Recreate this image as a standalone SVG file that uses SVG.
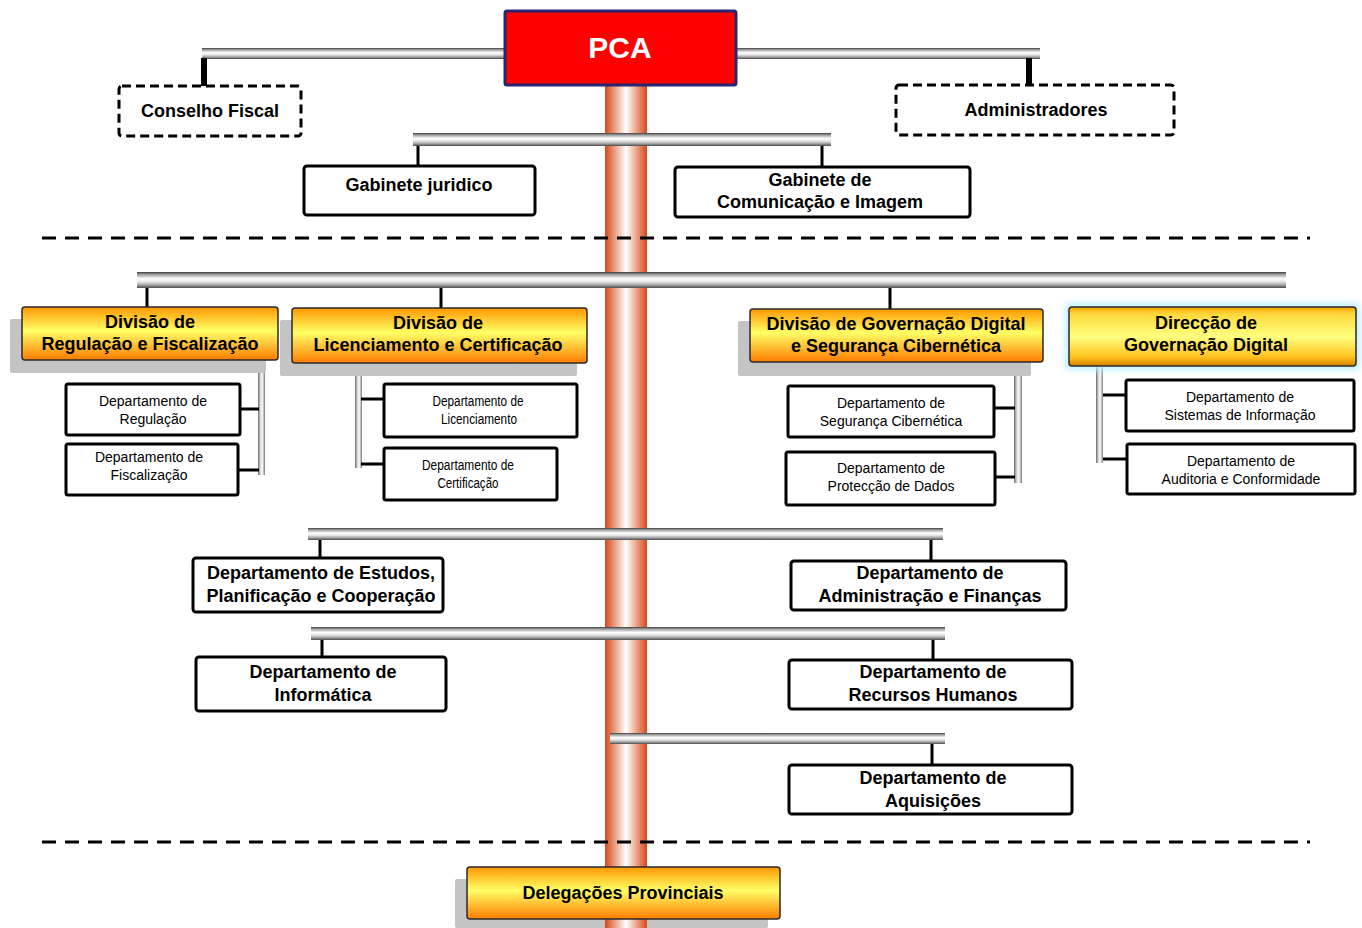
<svg xmlns="http://www.w3.org/2000/svg" width="1362" height="928" viewBox="0 0 1362 928">
  <defs>
    <!-- central trunk: copper edges fading to white -->
    <linearGradient id="trunkGrad" x1="0" y1="0" x2="1" y2="0">
      <stop offset="0" stop-color="#d5481a"/>
      <stop offset="0.18" stop-color="#e58a68"/>
      <stop offset="0.5" stop-color="#ffffff"/>
      <stop offset="0.82" stop-color="#e58a68"/>
      <stop offset="1" stop-color="#d5481a"/>
    </linearGradient>
    <!-- horizontal chrome bar -->
    <linearGradient id="barH" x1="0" y1="0" x2="0" y2="1">
      <stop offset="0" stop-color="#3c3c3c"/>
      <stop offset="0.15" stop-color="#9c9c9c"/>
      <stop offset="0.42" stop-color="#ffffff"/>
      <stop offset="0.62" stop-color="#e4e4e4"/>
      <stop offset="0.82" stop-color="#a0a0a0"/>
      <stop offset="1" stop-color="#4a4a4a"/>
    </linearGradient>
    <!-- vertical chrome bar -->
    <linearGradient id="barV" x1="0" y1="0" x2="1" y2="0">
      <stop offset="0" stop-color="#6a6a6a"/>
      <stop offset="0.35" stop-color="#d8d8d8"/>
      <stop offset="0.6" stop-color="#ffffff"/>
      <stop offset="1" stop-color="#7a7a7a"/>
    </linearGradient>
    <!-- orange division boxes -->
    <linearGradient id="orangeGrad" x1="0" y1="0" x2="0" y2="1">
      <stop offset="0" stop-color="#ff9800"/>
      <stop offset="0.45" stop-color="#ffff66"/>
      <stop offset="1" stop-color="#ff7c00"/>
    </linearGradient>
    <!-- golden bevelled box -->
    <linearGradient id="goldGrad" x1="0" y1="0" x2="0" y2="1">
      <stop offset="0" stop-color="#f2a000"/>
      <stop offset="0.12" stop-color="#ffd83a"/>
      <stop offset="0.5" stop-color="#ffff80"/>
      <stop offset="0.85" stop-color="#ffc21e"/>
      <stop offset="1" stop-color="#d58000"/>
    </linearGradient>
    <filter id="glow" x="-10%" y="-30%" width="120%" height="160%">
      <feGaussianBlur stdDeviation="3"/>
    </filter>
  </defs>
  <style>
    text { font-family: "Liberation Sans", Arial, sans-serif; fill: #000; text-anchor: middle; }
    .b { font-weight: bold; font-size: 18px; }
    .s { font-size: 14px; }
    .pca { font-weight: bold; font-size: 30px; fill: #fff; }
    .box { fill: #fff; stroke: #000; stroke-width: 3; }
    .dbox { fill: #fff; stroke: #000; stroke-width: 3; stroke-dasharray: 9 5; }
    .obox { fill: url(#orangeGrad); stroke: #2a2a2a; stroke-width: 1.5; }
    .gbox { fill: url(#goldGrad); stroke: #2a2a2a; stroke-width: 1.5; }
    .shadow { fill: #c4c4c4; }
    .bar { fill: url(#barH); }
    .vbar { fill: url(#barV); }
    .drop { stroke: #000; stroke-width: 3; fill: none; }
    .dropT { stroke: #000; stroke-width: 6; fill: none; }
    .sep { stroke: #000; stroke-width: 3; stroke-dasharray: 14 9; fill: none; }
  </style>

  <rect width="1362" height="928" fill="#fff"/>

  <!-- shadow of the provincial box sits beneath the trunk -->
  <rect class="shadow" x="455" y="879" width="313" height="49" rx="2"/>

  <!-- trunk -->
  <rect x="605" y="84" width="42" height="844" fill="url(#trunkGrad)"/>

  <!-- connectors -->
  <g id="connectors">
    <rect class="bar" x="202" y="48" width="838" height="11"/>
    <line class="dropT" x1="204" y1="58" x2="204" y2="86"/>
    <line class="dropT" x1="1029" y1="58" x2="1029" y2="86"/>

    <rect class="bar" x="413" y="133" width="418" height="13"/>
    <line class="drop" x1="418" y1="146" x2="418" y2="166"/>
    <line class="drop" x1="822" y1="146" x2="822" y2="167"/>

    <line class="sep" x1="42" y1="238" x2="1310" y2="238"/>

    <rect class="bar" x="137" y="272" width="1149" height="16"/>
    <line class="drop" x1="147" y1="288" x2="147" y2="307"/>
    <line class="drop" x1="441" y1="288" x2="441" y2="308"/>
    <line class="drop" x1="890" y1="288" x2="890" y2="309"/>

    <rect class="vbar" x="258" y="360" width="7" height="115"/>
    <line class="drop" x1="240" y1="409" x2="259" y2="409"/>
    <line class="drop" x1="238" y1="470" x2="259" y2="470"/>

    <rect class="vbar" x="355" y="363" width="7" height="105"/>
    <line class="drop" x1="361" y1="399" x2="384" y2="399"/>
    <line class="drop" x1="361" y1="464" x2="384" y2="464"/>

    <rect class="vbar" x="1014" y="362" width="8" height="121"/>
    <line class="drop" x1="995" y1="408" x2="1015" y2="408"/>
    <line class="drop" x1="995" y1="477" x2="1015" y2="477"/>

    <rect class="vbar" x="1096" y="366" width="7" height="97"/>
    <line class="drop" x1="1103" y1="395" x2="1126" y2="395"/>
    <line class="drop" x1="1103" y1="459" x2="1127" y2="459"/>

    <rect class="bar" x="308" y="528" width="635" height="12"/>
    <line class="drop" x1="320" y1="540" x2="320" y2="558"/>
    <line class="drop" x1="931" y1="540" x2="931" y2="561"/>

    <rect class="bar" x="311" y="627" width="634" height="13"/>
    <line class="drop" x1="322" y1="640" x2="322" y2="657"/>
    <line class="drop" x1="933" y1="640" x2="933" y2="660"/>

    <rect class="bar" x="610" y="733" width="335" height="11"/>
    <line class="drop" x1="932" y1="744" x2="932" y2="765"/>

    <line class="sep" x1="42" y1="842" x2="1310" y2="842"/>
  </g>

  <g id="pca">
    <rect x="505" y="11" width="231" height="74" fill="#ff0000" stroke="#262673" stroke-width="3" rx="2"/>
    <text class="pca" x="620" y="58">PCA</text>
  </g>

  <g id="conselho-fiscal">
    <rect class="dbox" x="119" y="86" width="182" height="50" rx="3"/>
    <text class="b" x="210" y="117">Conselho Fiscal</text>
  </g>

  <g id="administradores">
    <rect class="dbox" x="896" y="85" width="278" height="50" rx="3"/>
    <text class="b" x="1036" y="116">Administradores</text>
  </g>

  <g id="gabinete-juridico">
    <rect class="box" x="304" y="166" width="231" height="49" rx="3"/>
    <text class="b" x="419" y="191">Gabinete juridico</text>
  </g>

  <g id="gabinete-comunicacao">
    <rect class="box" x="675" y="167" width="295" height="50" rx="3"/>
    <text class="b" x="820" y="186">Gabinete de</text>
    <text class="b" x="820" y="208">Comunicação e Imagem</text>
  </g>

  <g id="div-regulacao">
    <rect class="shadow" x="10" y="319" width="256" height="54" rx="2"/>
    <rect class="obox" x="22" y="307" width="256" height="53" rx="3"/>
    <text class="b" x="150" y="328">Divisão de</text>
    <text class="b" x="150" y="350">Regulação e Fiscalização</text>
  </g>

  <g id="div-licenciamento">
    <rect class="shadow" x="280" y="320" width="297" height="56" rx="2"/>
    <rect class="obox" x="292" y="308" width="295" height="55" rx="3"/>
    <text class="b" x="438" y="329">Divisão de</text>
    <text class="b" x="438" y="351">Licenciamento e Certificação</text>
  </g>

  <g id="div-governacao">
    <rect class="shadow" x="738" y="321" width="293" height="55" rx="2"/>
    <rect class="obox" x="750" y="309" width="293" height="53" rx="3"/>
    <text class="b" x="896" y="330">Divisão de Governação Digital</text>
    <text class="b" x="896" y="352">e Segurança Cibernética</text>
  </g>

  <g id="direccao-governacao">
    <rect x="1065" y="303" width="295" height="67" rx="5" fill="#bfefff" filter="url(#glow)"/>
    <rect class="gbox" x="1069" y="307" width="287" height="59" rx="3"/>
    <text class="b" x="1206" y="329">Direcção de</text>
    <text class="b" x="1206" y="351">Governação Digital</text>
  </g>

  <g id="dep-regulacao">
    <rect class="box" x="66" y="384" width="174" height="51" rx="2"/>
    <text class="s" x="153" y="406">Departamento de</text>
    <text class="s" x="153" y="424">Regulação</text>
  </g>

  <g id="dep-fiscalizacao">
    <rect class="box" x="66" y="444" width="172" height="51" rx="2"/>
    <text class="s" x="149" y="462">Departamento de</text>
    <text class="s" x="149" y="480">Fiscalização</text>
  </g>

  <g id="dep-licenciamento">
    <rect class="box" x="384" y="384" width="193" height="53" rx="2"/>
    <text class="s" x="478" y="406" textLength="91" lengthAdjust="spacingAndGlyphs">Departamento de</text>
    <text class="s" x="479" y="424" textLength="76" lengthAdjust="spacingAndGlyphs">Licenciamento</text>
  </g>

  <g id="dep-certificacao">
    <rect class="box" x="384" y="448" width="173" height="52" rx="2"/>
    <text class="s" x="468" y="470" textLength="92" lengthAdjust="spacingAndGlyphs">Departamento de</text>
    <text class="s" x="468" y="488" textLength="61" lengthAdjust="spacingAndGlyphs">Certificação</text>
  </g>

  <g id="dep-seguranca">
    <rect class="box" x="788" y="386" width="206" height="51" rx="2"/>
    <text class="s" x="891" y="408">Departamento de</text>
    <text class="s" x="891" y="426">Segurança Cibernética</text>
  </g>

  <g id="dep-proteccao">
    <rect class="box" x="786" y="452" width="209" height="53" rx="2"/>
    <text class="s" x="891" y="473">Departamento de</text>
    <text class="s" x="891" y="491">Protecção de Dados</text>
  </g>

  <g id="dep-sistemas">
    <rect class="box" x="1126" y="380" width="228" height="51" rx="2"/>
    <text class="s" x="1240" y="402">Departamento de</text>
    <text class="s" x="1240" y="420">Sistemas de Informação</text>
  </g>

  <g id="dep-auditoria">
    <rect class="box" x="1127" y="444" width="228" height="50" rx="2"/>
    <text class="s" x="1241" y="466">Departamento de</text>
    <text class="s" x="1241" y="484">Auditoria e Conformidade</text>
  </g>

  <g id="dep-estudos">
    <rect class="box" x="193" y="558" width="250" height="54" rx="3"/>
    <text class="b" x="321" y="579">Departamento de Estudos,</text>
    <text class="b" x="321" y="602">Planificação e Cooperação</text>
  </g>

  <g id="dep-administracao">
    <rect class="box" x="791" y="561" width="275" height="49" rx="3"/>
    <text class="b" x="930" y="579">Departamento de</text>
    <text class="b" x="930" y="602">Administração e Finanças</text>
  </g>

  <g id="dep-informatica">
    <rect class="box" x="196" y="657" width="250" height="54" rx="3"/>
    <text class="b" x="323" y="678">Departamento de</text>
    <text class="b" x="323" y="701">Informática</text>
  </g>

  <g id="dep-recursos">
    <rect class="box" x="789" y="660" width="283" height="49" rx="3"/>
    <text class="b" x="933" y="678">Departamento de</text>
    <text class="b" x="933" y="701">Recursos Humanos</text>
  </g>

  <g id="dep-aquisicoes">
    <rect class="box" x="789" y="765" width="283" height="49" rx="3"/>
    <text class="b" x="933" y="784">Departamento de</text>
    <text class="b" x="933" y="807">Aquisições</text>
  </g>

  <g id="delegacoes">
    <rect class="obox" x="467" y="867" width="313" height="52" rx="3"/>
    <text class="b" x="623" y="899">Delegações Provinciais</text>
  </g>
</svg>
